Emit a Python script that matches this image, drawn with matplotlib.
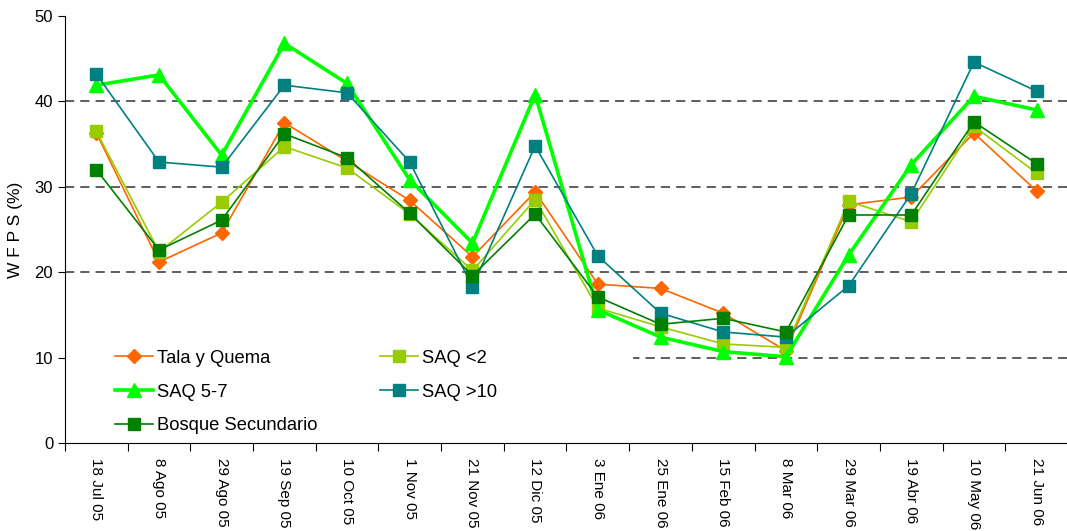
import numpy as np
import matplotlib
matplotlib.use('Agg')
import matplotlib.pyplot as plt
from matplotlib.patches import Rectangle

plt.rcParams['font.family'] = ['Liberation Sans', 'DejaVu Sans']

fechas = ['18 Jul 05', '8 Ago 05', '29 Ago 05', '19 Sep 05', '10 Oct 05', '1 Nov 05',
          '21 Nov 05', '12 Dic 05', '3 Ene 06', '25 Ene 06', '15 Feb 06', '8 Mar 06',
          '29 Mar 06', '19 Abr 06', '10 May 06', '21 Jun 06']

tala_quema = [36.3, 21.2, 24.6, 37.5, 33.0, 28.4, 21.8, 29.4, 18.6, 18.1, 15.2, 10.8,
              27.9, 28.8, 36.3, 29.5]
saq_2      = [36.5, 22.4, 28.2, 34.7, 32.2, 26.8, 20.2, 28.5, 15.8, 13.6, 11.6, 11.2,
              28.3, 25.9, 37.1, 31.6]
saq_5_7    = [41.9, 43.1, 33.7, 46.8, 42.1, 30.8, 23.4, 40.8, 15.6, 12.4, 10.7, 10.1,
              22.0, 32.6, 40.6, 39.0]
saq_10     = [43.2, 32.9, 32.3, 41.9, 41.0, 32.9, 18.3, 34.8, 21.9, 15.2, 13.0, 12.4,
              18.4, 29.2, 44.6, 41.2]
bosque     = [32.0, 22.6, 26.1, 36.2, 33.4, 26.9, 19.6, 26.8, 17.1, 13.9, 14.6, 13.0,
              26.7, 26.7, 37.6, 32.7]

x = np.arange(len(fechas))

fig = plt.figure(figsize=(10.67, 5.31), dpi=100)
ax = fig.add_axes([65/1067, 88/531, 1003/1067, 427/531])

l1, = ax.plot(x, tala_quema, color='#FF6600', linewidth=1.2, marker='D', markersize=7.5,
              label='Tala y Quema', zorder=3)
l2, = ax.plot(x, saq_2, color='#99CC00', linewidth=1.2, marker='s', markersize=8,
              label='SAQ <2', zorder=4)
l3, = ax.plot(x, saq_5_7, color='#00FF00', linewidth=2.6, marker='^', markersize=10,
              label='SAQ 5-7', zorder=5)
l4, = ax.plot(x, saq_10, color='#008080', linewidth=1.2, marker='s', markersize=8,
              label='SAQ >10', zorder=6)
l5, = ax.plot(x, bosque, color='#008000', linewidth=1.2, marker='s', markersize=8,
              label='Bosque Secundario', zorder=7)

ax.set_xlim(-0.5, len(fechas) - 0.5)
ax.set_ylim(0, 50)
ax.set_yticks(range(0, 51, 10))
for yv in [10, 20, 30, 40]:
    ax.axhline(yv, color='#333333', linestyle=(0, (6, 4)), linewidth=1.1, zorder=1)

# fondo blanco de la leyenda (tapa la línea de 10)
ax.add_patch(Rectangle((0, 0.005), 0.566, 0.25, transform=ax.transAxes,
                       facecolor='white', edgecolor='none', zorder=2))

ax.set_xticks(np.arange(-0.5, len(fechas), 1), minor=False)
ax.set_xticklabels([])
ax.set_xticks(x, minor=True)
ax.set_xticklabels(fechas, minor=True, rotation=-90, fontsize=11, va='top', ha='center')
ax.tick_params(axis='x', which='minor', length=0, pad=11)
ax.tick_params(axis='x', which='major', length=6, direction='out')
ax.tick_params(axis='y', labelsize=12, length=5, direction='out')

for s in ['top', 'right']:
    ax.spines[s].set_visible(False)
ax.set_ylabel('W F P S (%)', fontsize=12.5, labelpad=8)

leg = ax.legend(handles=[l1, l3, l5, l2, l4], loc='lower left', ncol=2,
                bbox_to_anchor=(0.05, 0.02), fontsize=13.2, frameon=False,
                handlelength=2.05, columnspacing=3.4, labelspacing=0.92, borderpad=0,
                borderaxespad=0, handletextpad=0.25)
leg.set_zorder(8)

fig.savefig('out.png', dpi=100)
